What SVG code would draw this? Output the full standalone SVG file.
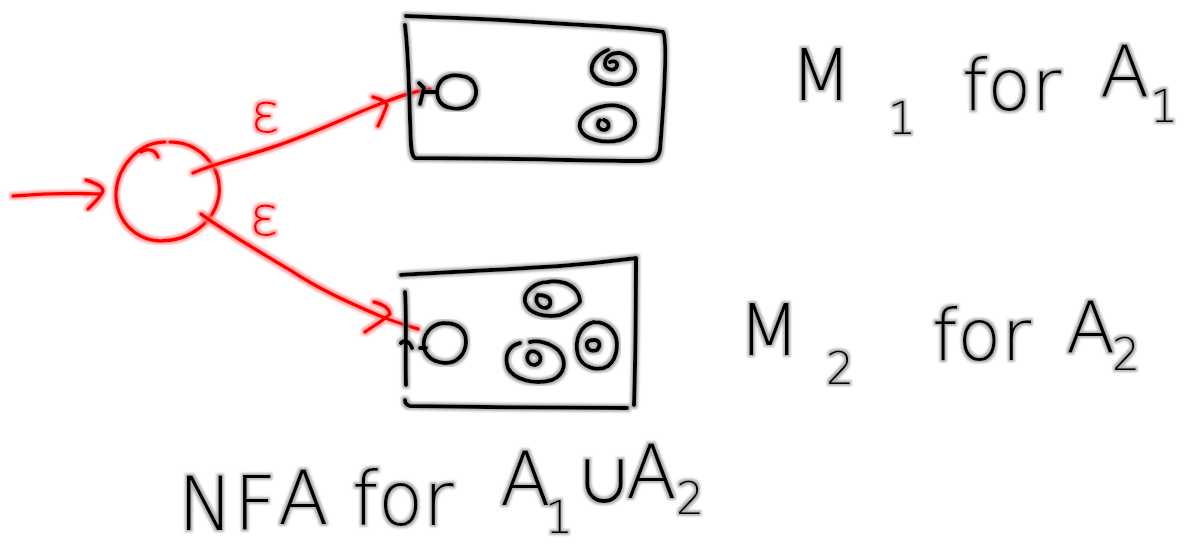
<svg xmlns="http://www.w3.org/2000/svg" width="1184" height="545" viewBox="0 0 1184 545">
<defs>
<filter id="halo" x="-10%" y="-10%" width="120%" height="120%">
<feMorphology in="SourceAlpha" operator="dilate" radius="1.6" result="d"/>
<feGaussianBlur in="d" stdDeviation="0.8" result="b"/>
<feFlood flood-color="#808080" flood-opacity="0.6"/>
<feComposite in2="b" operator="in" result="h"/>
<feMerge><feMergeNode in="h"/><feMergeNode in="SourceGraphic"/></feMerge>
</filter>
<filter id="rhalo" x="-10%" y="-10%" width="120%" height="120%">
<feMorphology in="SourceAlpha" operator="dilate" radius="1.6" result="d"/>
<feGaussianBlur in="d" stdDeviation="0.8" result="b"/>
<feFlood flood-color="#ff8080" flood-opacity="0.7"/>
<feComposite in2="b" operator="in" result="h"/>
<feMerge><feMergeNode in="h"/><feMergeNode in="SourceGraphic"/></feMerge>
</filter>
</defs>
<style>
.ink{fill:none;stroke:#000;stroke-width:4;stroke-linecap:round;stroke-linejoin:round;filter:url(#halo)}
.red{fill:none;stroke:#f00;stroke-width:3.5;stroke-linecap:round;stroke-linejoin:round;filter:url(#rhalo)}
.hw{font-family:"DejaVu Sans","Liberation Sans",sans-serif;font-weight:200;fill:#000;filter:url(#halo)}
.sub{font-size:44px}
.cup{font-family:"Noto Sans CJK JP","DejaVu Sans",sans-serif;font-weight:400;font-size:58px;fill:#000;filter:url(#halo)}
.eps{font-family:"DejaVu Sans","Liberation Sans",sans-serif;font-weight:200;fill:#f00;font-size:56px;filter:url(#rhalo)}
</style>
<rect width="1184" height="545" fill="#fff"/>

<g id="start">
<path class="red" d="M13,196 C40,194 70,193 100,194 M86,180 C95,183 103,186 103,191 C100,198 93,204 88,209"/>
<path class="red" d="M165,142 C140,142 118,165 116,192 C115,220 135,240 160,241 C190,241 215,222 219,195 C222,165 198,142 170,142 M141,152 C147,148 155,149 158,157"/>
</g>

<g id="connectors">
<path class="red" d="M193,173 C210,165 240,158 270,148 C310,135 340,120 372,107 C395,98 410,92 430,89 M373,97 C380,99 386,101 387,105 C384,113 381,120 378,126"/>
<path class="red" d="M201,214 C230,235 260,252 290,270 C320,290 350,303 380,316 C395,322 408,326 418,329 M374,302 C382,304 389,308 390,314 C383,321 373,326 365,332"/>
<text class="eps" x="250" y="132">ε</text>
<text class="eps" x="249" y="235">ε</text>
</g>

<g id="M1">
<path class="ink" d="M406,16 C470,18 540,22 600,26 C630,28 650,29 663,32 C668,40 664,100 660,150 C658,160 652,161 640,161 C560,160 480,158 415,158 C410,155 411,140 410,120 C409,80 408,50 405,25"/>
<path class="ink" d="M450,76 C440,78 435,88 438,98 C442,110 462,112 472,103 C480,93 476,78 462,76 C457,75 452,75 450,76 M419,83 L424,88 L420,104 M424,92 L436,92"/>
<path class="ink" d="M608,50 C598,54 590,62 592,72 C596,84 618,88 630,80 C640,70 634,56 620,53 C610,52 605,58 605,64 C605,70 615,72 617,66 C618,62 614,60 610,62"/>
<path class="ink" d="M600,107 C588,110 578,118 580,128 C583,140 605,144 620,140 C636,135 640,120 628,110 C618,104 607,105 600,107 M600,120 C596,124 598,130 605,130 C610,128 610,122 604,120"/>
</g>

<g id="M2">
<path class="ink" d="M401,275 C450,272 500,270 560,266 C600,263 620,260 636,258 C636,290 636,340 634,405 M405,400 C405,403 406,405 410,406 C480,407 560,408 627,408 M405,292 C407,320 405,350 406,385 M401,343 C404,340 409,340 412,348"/>
<path class="ink" d="M444,323 C430,324 422,336 424,348 C427,360 440,365 452,362 C464,358 468,345 465,335 C462,326 454,323 444,323 M420,348 L426,348"/>
<path class="ink" d="M548,282 C535,282 523,292 525,302 C528,314 546,318 560,315 C570,312 578,305 580,302 M580,302 C580,295 576,287 565,283 C558,281 552,281 548,282 M538,295 C534,300 538,308 546,308 C552,306 552,298 545,296 C542,295 540,295 538,295"/>
<path class="ink" d="M520,343 C508,346 504,356 508,368 C514,380 535,385 552,380 C566,374 567,360 558,350 C550,343 538,340 530,342 M530,352 C525,356 527,365 535,365 C542,363 542,355 536,352 C534,351 531,351 530,352"/>
<path class="ink" d="M594,322 C580,325 574,340 578,355 C582,368 598,372 608,366 C618,358 620,340 612,330 C607,324 600,322 594,322 M587,343 C586,350 592,352 597,350 C601,346 600,340 594,340 C590,340 588,341 587,343"/>
</g>

<g id="labels">
<text class="hw" font-size="72" y="100"><tspan x="790">M</tspan><tspan class="sub" x="888" y="134">1</tspan><tspan x="962" y="110">for</tspan><tspan x="1100" y="96">A</tspan><tspan class="sub" x="1150" y="122">1</tspan></text>
<text class="hw" font-size="72" y="355"><tspan x="738">M</tspan><tspan class="sub" x="826" y="384">2</tspan><tspan x="932" y="360">for</tspan><tspan x="1066" y="352">A</tspan><tspan class="sub" x="1112" y="370">2</tspan></text>
<text class="hw" font-size="74" y="530"><tspan x="178">N</tspan><tspan x="234">F</tspan><tspan x="278" y="524">A</tspan><tspan x="352" y="525">for</tspan><tspan x="500" y="505">A</tspan><tspan class="sub" x="545" y="533">1</tspan><tspan x="626" y="498">A</tspan><tspan class="sub" x="676" y="514">2</tspan></text>
<text class="cup" x="575" y="503">∪</text>
</g>
</svg>
